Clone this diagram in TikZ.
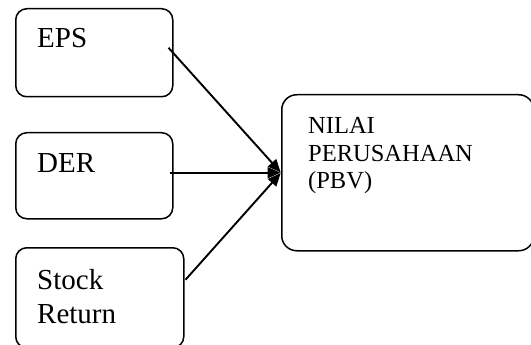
\documentclass[tikz,border=0pt]{standalone}
\usepackage{fontspec}
\setmainfont{Liberation Serif}
\usetikzlibrary{arrows.meta}
\tikzset{
  box/.style={draw=black, line width=1.5pt, rounded corners=11pt, inner sep=0pt, anchor=north west},
  bigbox/.style={box, rounded corners=15pt},
  lbl/.style={anchor=base west, inner sep=0pt, align=left, font=\fontsize{29}{34}\selectfont},
  rlbl/.style={anchor=base west, inner sep=0pt, align=left, font=\fontsize{24.5}{27.5}\selectfont},
  arr/.style={line width=1.9pt, -{Triangle[length=13pt,width=11pt]}, shorten >=0.5pt}
}
\begin{document}
\begin{tikzpicture}[x=1pt,y=-1pt]
\useasboundingbox (0,0) rectangle (531,345);
\clip (0,0) rectangle (531,345);
\node[box, minimum width=157pt, minimum height=88pt] (eps) at (15,8) {};
\node[box, minimum width=157pt, minimum height=86pt] (der) at (15,132) {};
\node[box, minimum width=168pt, minimum height=100pt] (sr) at (15,247) {};
\node[bigbox, minimum width=252pt, minimum height=156pt] (pbv) at (281,94) {};
\node[lbl] (tEPS) at (37,48) {EPS};
\node[lbl] (tDER) at (37,172) {DER};
\node[lbl] (tSR) at (37,323) {Stock\\Return};
\node[rlbl] (tPBV) at (308,189) {NILAI\\PERUSAHAAN\\(PBV)};
\draw[arr] ([shift={(-5,-5)}]eps.east) -- (pbv.west);
\draw[arr] ([shift={(-4,-3)}]der.east) -- (pbv.west);
\draw[arr] ([shift={(1,-18)}]sr.east) -- (pbv.west);
\end{tikzpicture}
\end{document}
